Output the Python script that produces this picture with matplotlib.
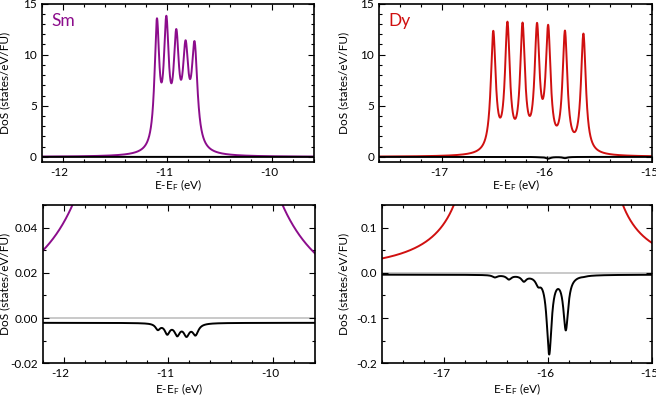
import matplotlib
matplotlib.use("Agg")
import matplotlib.pyplot as plt
import numpy
from matplotlib.ticker import MultipleLocator
from matplotlib.transforms import ScaledTranslation

plt.rcParams["font.family"] = ["Lato", "DejaVu Sans"]
plt.rcParams["axes.unicode_minus"] = False
plt.rcParams["mathtext.default"] = "regular"

# broadened f levels
# position (eV), half width (eV), peak height (states/eV/FU)
sm_pos = [-11.10, -11.01, -10.915, -10.826, -10.74]
sm_width = [0.027, 0.029, 0.031, 0.033, 0.033]
sm_up = [12.0, 11.45, 9.9, 8.7, 9.7]
sm_down = [-0.0026, -0.0044, -0.0048, -0.0050, -0.0048]
sm_down_base = -0.0021

dy_pos = [-16.513, -16.378, -16.234, -16.096, -15.99, -15.83, -15.654]
dy_width = [0.028, 0.028, 0.028, 0.028, 0.028, 0.028, 0.028]
dy_up = [11.6, 12.1, 11.9, 11.55, 11.5, 11.5, 11.6]
dy_down = [-0.005, -0.009, -0.012, -0.015, -0.172, -0.118, -0.001]
dy_down_base = -0.004

sm_color = "#8c0d8c"
dy_color = "#d01010"


def dos(x, pos, width, height, base=0.0):
    y = numpy.full_like(x, base)
    for p, w, h in zip(pos, width, height):
        y += h * w ** 2 / ((x - p) ** 2 + w ** 2)
    return y


def style(fig, ax, xlim, ylim, ymajor, yminor, ylab_x, xlab_y):
    ax.set_xlim(xlim)
    ax.set_ylim(ylim)
    ax.xaxis.set_major_locator(MultipleLocator(1))
    ax.xaxis.set_minor_locator(MultipleLocator(0.2))
    ax.yaxis.set_major_locator(MultipleLocator(ymajor))
    ax.yaxis.set_minor_locator(MultipleLocator(yminor))
    ax.tick_params(which="both", direction="in", top=True, right=True, labelsize=8.5, width=0.8)
    ax.tick_params(which="major", length=4)
    ax.tick_params(which="minor", length=2)
    for s in ax.spines.values():
        s.set_linewidth(1.2)
    ax.set_xlabel("E-E$_F$ (eV)", fontsize=8.5)
    ax.set_ylabel("DoS (states/eV/FU)", fontsize=8.5)
    ax.yaxis.set_label_coords(ylab_x, 0.5)
    ax.xaxis.set_label_coords(0.5, xlab_y)
    # the minus sign hangs left of the tick, digits sit on it
    shift = ScaledTranslation(-0.03, 0, fig.dpi_scale_trans)
    for lab in ax.get_xticklabels():
        lab.set_transform(lab.get_transform() + shift)


fig = plt.figure(figsize=(6.56, 3.96), dpi=100)

panels = [
    ([0.0636, 0.591, 0.415, 0.400], sm_pos, sm_width, sm_up, sm_down, sm_down_base, sm_color,
     (-12.2, -9.6), (-0.5, 15), 5, 1, -0.115, -0.10, "Sm"),
    ([0.065, 0.0826, 0.415, 0.3997], sm_pos, sm_width, sm_up, sm_down, sm_down_base, sm_color,
     (-12.2, -9.6), (-0.02, 0.05), 0.02, 0.01, -0.118, -0.113, None),
    ([0.578, 0.591, 0.416, 0.400], dy_pos, dy_width, dy_up, dy_down, dy_down_base, dy_color,
     (-17.6, -15), (-0.5, 15), 5, 1, -0.108, -0.10, "Dy"),
    ([0.5823, 0.0826, 0.4116, 0.3997], dy_pos, dy_width, dy_up, dy_down, dy_down_base, dy_color,
     (-17.6, -15), (-0.2, 0.15), 0.1, 0.05, -0.12, -0.113, None),
]

for rect, pos, width, up, down, base, color, xlim, ylim, ym, yn, lx, ly, name in panels:
    ax = fig.add_axes(rect)
    x = numpy.linspace(xlim[0], xlim[1], 4000)
    ax.axhline(0, color="#c0c0c0", lw=1.2, zorder=1)
    ax.plot(x, dos(x, pos, width, up), color=color, lw=1.4, zorder=2)
    ax.plot(x, dos(x, pos, width, down, base), color="black", lw=1.4, zorder=3)
    style(fig, ax, xlim, ylim, ym, yn, lx, ly)
    if name:
        ax.text(0.035, 0.89, name, color=color, fontsize=12.5, transform=ax.transAxes, va="center")

fig.savefig("out.png", dpi=100)
